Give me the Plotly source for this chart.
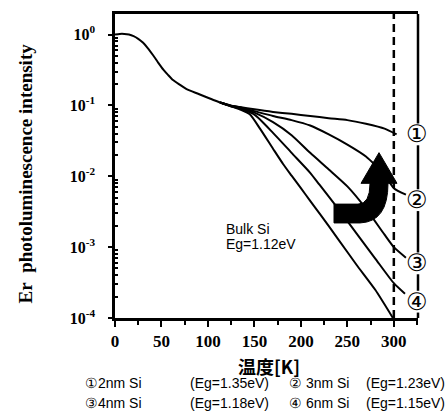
import math
import plotly.graph_objects as go

# ---------------- data ----------------
temp_common = [0, 5, 10, 15, 20, 25, 30, 35, 41, 46, 52, 57, 62, 70, 77, 90, 102, 113]
pl_common = [1.0, 1.02, 1.02, 1.0, 0.95, 0.87, 0.77, 0.65, 0.51, 0.41, 0.32, 0.27, 0.23, 0.195,
             0.17, 0.145, 0.125, 0.11]

temp_1 = [113, 124, 134, 150, 170, 190, 210, 230, 250, 270, 290, 303]
pl_1 = [0.11, 0.1, 0.095, 0.088, 0.081, 0.076, 0.071, 0.066, 0.062, 0.055, 0.047, 0.039]

temp_2 = [113, 124, 134, 150, 170, 190, 210, 230, 250, 270, 290, 300, 313]
pl_2 = [0.11, 0.1, 0.094, 0.083, 0.071, 0.062, 0.052, 0.039, 0.028, 0.019, 0.0105, 0.0068, 0.0055]

temp_3 = [113, 124, 134, 150, 170, 190, 210, 230, 250, 270, 290, 300, 313]
pl_3 = [0.11, 0.099, 0.092, 0.079, 0.058, 0.038, 0.0214, 0.0125, 0.0072, 0.0035, 0.0015,
        0.001, 0.00071]

temp_4 = [113, 124, 134, 150, 170, 190, 210, 220, 240, 260, 280, 300, 312]
pl_4 = [0.11, 0.098, 0.09, 0.074, 0.041, 0.0214, 0.0112, 0.0076, 0.0035, 0.00155, 0.00069,
        0.00031, 0.00022]

temp_bulk = [113, 124, 134, 145, 156, 170, 181, 190, 200, 210, 220, 240, 260, 280, 299]
pl_bulk = [0.11, 0.098, 0.088, 0.075, 0.047, 0.0245, 0.0148, 0.0102, 0.0068, 0.0045, 0.003,
           0.0013, 0.00056, 0.00025, 0.0001]

x_ticks = [0, 50, 100, 150, 200, 250, 300]
x_ticktext = ["<b>0</b>", "<b>50</b>", "<b>100</b>", "<b>150</b>", "<b>200</b>", "<b>250</b>", "<b>300</b>"]
y_ticks = [1, 0.1, 0.01, 0.001, 0.0001]
y_ticktext = ["<b>10<sup>0</sup></b>", "<b>10<sup>-1</sup></b>", "<b>10<sup>-2</sup></b>",
              "<b>10<sup>-3</sup></b>", "<b>10<sup>-4</sup></b>"]
curve_labels = ["①", "②", "③", "④"]
curve_label_values = [0.039, 0.0046, 0.00059, 0.00017]
legend_line1 = ["①2nm Si", "(Eg=1.35eV)", "② 3nm Si", "(Eg=1.23eV)"]
legend_line2 = ["③4nm Si", "(Eg=1.18eV)", "④ 6nm Si", "(Eg=1.15eV)"]
bulk_text = ["Bulk Si", "Eg=1.12eV"]
room_temp = 300

# ---------------- layout geometry ----------------
W, H = 446, 419
ML, MR, MT, MB = 115, 28, 11, 101
PW, PH = W - ML - MR, H - MT - MB


def px(xp):
    return (xp - ML) / PW


def py(yp):
    return (MT + PH - yp) / PH


fig = go.Figure()
line_style = dict(color="black", width=2, shape="spline", smoothing=0.6)
for tx, ty in [(temp_common, pl_common), (temp_1, pl_1), (temp_2, pl_2), (temp_3, pl_3),
               (temp_4, pl_4), (temp_bulk, pl_bulk)]:
    fig.add_trace(go.Scatter(x=tx, y=ty, mode="lines", line=line_style,
                             showlegend=False, hoverinfo="skip"))

# dashed 300 K line
fig.add_shape(type="line", xref="x", yref="paper", x0=room_temp, x1=room_temp, y0=0, y1=1,
              line=dict(color="black", width=2.5, dash="8px,5px"))

# right frame, interrupted by the circled labels
label_px = [MT + PH - (math.log10(v) + 4) / 4.29 * PH for v in curve_label_values]
edges = [MT] + [e for c in label_px for e in (c - 11, c + 11)] + [MT + PH]
for a, b in zip(edges[0::2], edges[1::2]):
    if b > a:
        fig.add_shape(type="line", xref="paper", yref="paper", x0=1, x1=1, y0=py(a), y1=py(b),
                      line=dict(color="black", width=2.5))

# big curved arrow (decoration, paper coordinates)
path = (f"M {px(334)},{py(203)} L {px(334)},{py(222)} L {px(360)},{py(222)} "
        f"Q {px(388)},{py(221)} {px(388)},{py(182)} "
        f"L {px(397)},{py(182)} L {px(379)},{py(151)} L {px(361)},{py(182)} "
        f"L {px(370)},{py(182)} Q {px(370)},{py(203)} {px(358)},{py(203)} Z")
fig.add_shape(type="path", xref="paper", yref="paper", path=path,
              fillcolor="black", line=dict(color="black", width=1))

# circled curve labels on the right frame
for lab, val in zip(curve_labels, curve_label_values):
    fig.add_annotation(x=px(417), y=math.log10(val), xref="paper", yref="y", text=lab,
                       showarrow=False,
                       font=dict(family="DejaVu Sans", size=24, color="black"),
                       xanchor="center", yanchor="middle")

# Bulk Si text
for i, t in enumerate(bulk_text):
    fig.add_annotation(x=px(224), y=py(228 + 15 * i), xref="paper", yref="paper", text=t,
                       showarrow=False, xanchor="left", yanchor="middle",
                       font=dict(family="Liberation Sans", size=14, color="black"))

# axis titles
fig.add_annotation(x=px(25), y=py(172), xref="paper", yref="paper",
                   text="<b>Er&nbsp;&nbsp;photoluminescence intensity</b>", textangle=-90,
                   showarrow=False, xanchor="center", yanchor="middle",
                   font=dict(family="Liberation Serif", size=19, color="black"))
fig.add_annotation(x=px(269), y=py(382), xref="paper", yref="paper", text="<b>温度[K]</b>",
                   showarrow=False,
                   font=dict(family="Noto Sans CJK JP", size=18, color="black"))

# bottom legend text
x_lefts = [83, 188, 287, 364]
for i, line in enumerate([legend_line1, legend_line2]):
    yy = py(384 + 20 * i)
    for xl, t in zip(x_lefts, line):
        fig.add_annotation(x=px(xl), y=yy, xref="paper", yref="paper", text=t, showarrow=False,
                           xanchor="left", yanchor="middle",
                           font=dict(family="Liberation Sans", size=14, color="black"))

minor_y = [k * 10.0 ** e for e in range(-4, 1) for k in range(2, 10)]

fig.update_layout(
    width=W, height=H, margin=dict(l=ML, r=MR, t=MT, b=MB),
    paper_bgcolor="white", plot_bgcolor="white",
    xaxis=dict(range=[0, 326], tickvals=x_ticks, ticktext=x_ticktext, showline=True,
               linewidth=2.5, linecolor="black", mirror=True, ticks="outside", ticklen=6,
               tickwidth=2, tickcolor="black", showgrid=False, zeroline=False,
               tickfont=dict(family="Liberation Serif", size=17, color="black"),
               minor=dict(tickvals=[25, 75, 125, 175, 225, 275, 325], ticks="outside",
                          ticklen=4, tickwidth=2, tickcolor="black", showgrid=False)),
    yaxis=dict(type="log", range=[-4, 0.29], tickvals=y_ticks, ticktext=y_ticktext,
               showline=True, linewidth=2.5, linecolor="black", mirror=False,
               ticks="outside", ticklen=4, tickwidth=2, tickcolor="black",
               showgrid=False, zeroline=False, ticklabelstandoff=10,
               tickfont=dict(family="Liberation Serif", size=16, color="black"),
               minor=dict(tickvals=minor_y, ticks="inside", ticklen=3, tickwidth=1.5,
                          tickcolor="black", showgrid=False)),
)

fig.write_html("out.html", config={"displayModeBar": False},
               post_script="document.body.style.margin='0';")
